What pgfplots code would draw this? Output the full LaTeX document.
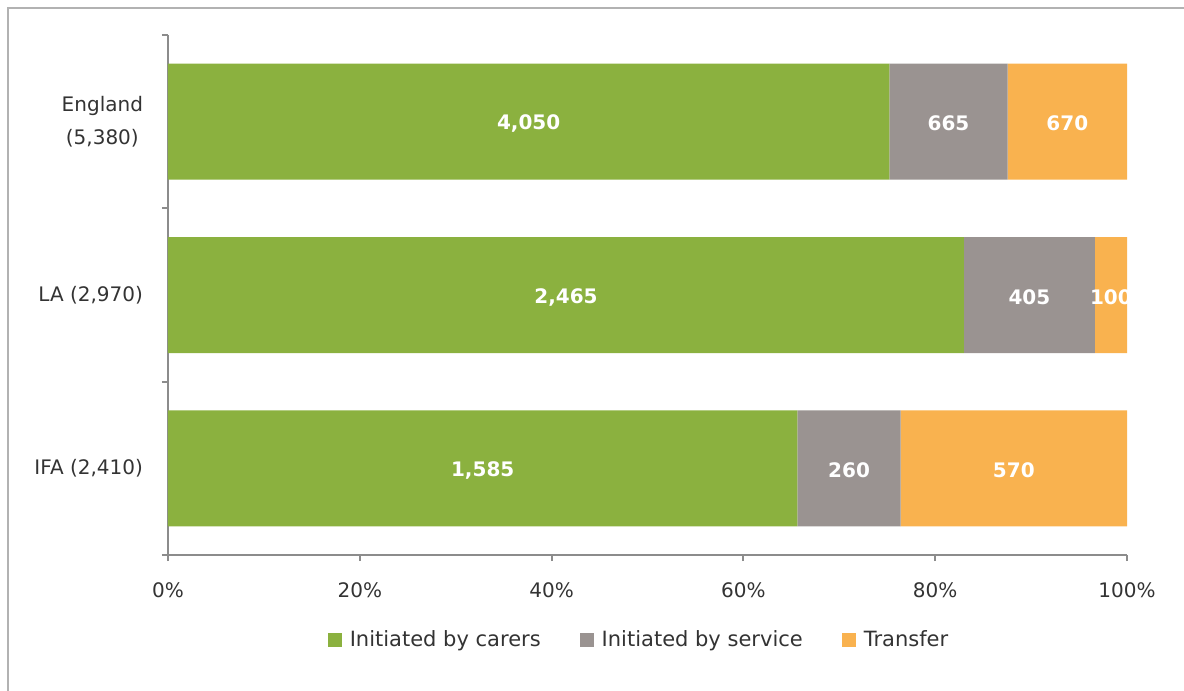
\documentclass[border=0pt]{standalone}
\usepackage{pgfplots}
\pgfplotsset{compat=1.18}
\usepackage{pgfplotstable}
\usepackage{fontspec}
\setmainfont{DejaVu Sans}
\definecolor{cgreen}{HTML}{8BB13F}
\definecolor{cgray}{HTML}{9A9391}
\definecolor{corange}{HTML}{F9B24F}
\definecolor{caxis}{HTML}{8C8C8C}
\definecolor{ctext}{HTML}{333333}
% x = share of the row total (%), lab = count shown
\pgfplotstableread{
y x lab
0 65.63 1,585
1 83.00 2,465
2 75.21 4,050
}\carers
\pgfplotstableread{
y x lab
0 10.77 260
1 13.64 405
2 12.35 665
}\service
\pgfplotstableread{
y x lab
0 23.60 570
1 3.36 100
2 12.44 670
}\transfer
\begin{document}
\begin{tikzpicture}[font=\fontsize{10pt}{12.5pt}\selectfont]
\useasboundingbox (-84pt,-68pt) rectangle (508pt,277.5pt);
\draw[color=black!30, line width=1pt] (-80pt,-68pt) -- (-80pt,273.5pt) -- (508pt,273.5pt);
\begin{axis}[
  at={(0,0)}, anchor=south west,
  width=479.5pt, height=260pt, scale only axis,
  xbar stacked, bar width=58pt,
  xmin=0, xmax=100, ymin=-0.5, ymax=2.5,
  axis x line*=bottom, axis y line*=left,
  axis line style={caxis, line width=1pt},
  xtick={0,20,40,60,80,100},
  xticklabels={0\%,20\%,40\%,60\%,80\%,100\%},
  xticklabel style={yshift=-7.5pt, text=ctext},
  ytick={-0.5,0.5,1.5,2.5},
  yticklabels={},
  extra y ticks={0,1,2},
  extra y tick labels={{IFA (2,410)},{LA (2,970)},{England\\(5,380)}},
  extra y tick style={tick style={draw=none}, yticklabel style={align=center, xshift=-6pt, text=ctext, font=\fontsize{10pt}{16.5pt}\selectfont}},
  major tick length=3pt,
  tick align=outside,
  tick style={caxis, line width=1pt},
  nodes near coords,
  point meta=explicit symbolic,
  every node near coord/.append style={anchor=center, yshift=-1pt, text=white, font=\fontsize{10pt}{12.5pt}\selectfont\bfseries},
  legend columns=3,
  legend style={at={(axis description cs:0.4922,0)}, anchor=center, yshift=-42.5pt, draw=none, text=ctext,
    font=\fontsize{10.5pt}{12.5pt}\selectfont,
    /tikz/every even column/.append style={column sep=17.5pt}},
]
\addplot[fill=cgreen, draw=none, legend image code/.code={\fill[cgreen] (0pt,-3.5pt) rectangle (7pt,3.5pt); \path (9pt,0pt);}] table[x=x, y=y, meta=lab] {\carers};
\addplot[fill=cgray, draw=none, legend image code/.code={\fill[cgray] (0pt,-3.5pt) rectangle (7pt,3.5pt); \path (9pt,0pt);}] table[x=x, y=y, meta=lab] {\service};
\addplot[fill=corange, draw=none, legend image code/.code={\fill[corange] (0pt,-3.5pt) rectangle (7pt,3.5pt); \path (9pt,0pt);}] table[x=x, y=y, meta=lab] {\transfer};
\legend{Initiated by carers, Initiated by service, Transfer}
\end{axis}
\end{tikzpicture}
\end{document}
